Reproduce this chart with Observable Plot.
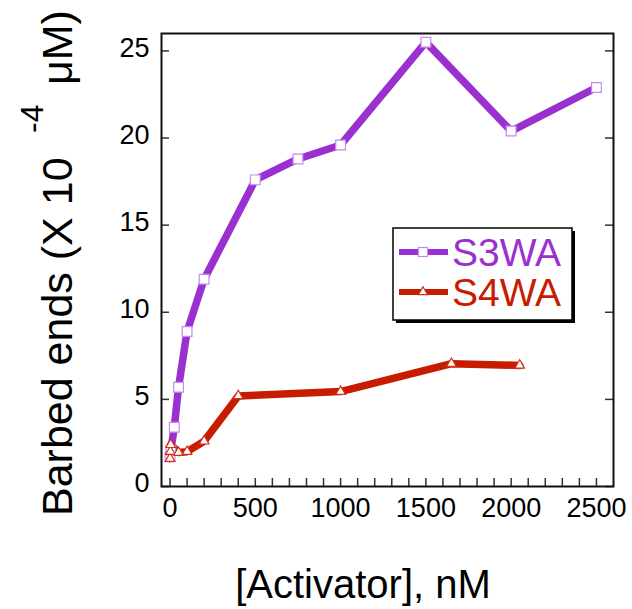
<!DOCTYPE html>
<html><head><meta charset="utf-8">
<script src="https://cdn.jsdelivr.net/npm/d3@7"></script>
<script src="https://cdn.jsdelivr.net/npm/@observablehq/plot@0.6"></script>
<style>body{margin:0;background:#fff}</style>
</head><body><div id="chart"></div>
<script>
// ---- data ----
const seriesNames = ["S3WA", "S4WA"];
const s3waX = [0, 5, 25, 50, 100, 200, 500, 750, 1000, 1500, 2000, 2500];
const s3waY = [1.7, 2.1, 3.4, 5.7, 8.9, 11.9, 17.6, 18.8, 19.6, 25.5, 20.4, 22.9];
const s4waX = [0, 2, 4, 50, 100, 200, 400, 1000, 1650, 2050];
const s4waY = [1.6, 2.0, 2.4, 1.95, 2.0, 2.6, 5.2, 5.45, 7.05, 6.95];
const xTicks = [0, 500, 1000, 1500, 2000, 2500];
const xMinorTicks = d3.range(0, 2600, 100);
const yTicks = [0, 5, 10, 15, 20, 25];
const xDomain = [-50, 2600];
const yDomain = [0, 26];
const xLabel = "[Activator], nM";
const yLabelMain = "Barbed ends (X 10";
const yLabelSup = "-4";
const yLabelUnit = "μM)";

const colors = ["#9a30d0", "#c81c00"];
const markerStroke = ["#c58af0", "#d0301c"];
const FONT = "'Liberation Sans', Arial, Helvetica, sans-serif";

const data3 = s3waX.map((x, i) => ({x, y: s3waY[i]}));
const data4 = s4waX.map((x, i) => ({x, y: s4waY[i]}));

const W = 632, H = 609, mL = 161, mR = 19, mT = 33, mB = 123;
const fw = W - mL - mR, fh = H - mT - mB;

const chart = Plot.plot({
  width: W, height: H,
  marginLeft: mL, marginRight: mR, marginTop: mT, marginBottom: mB,
  style: {fontFamily: FONT, fontSize: "27px", color: "#000", background: "#fff", overflow: "visible"},
  x: {domain: xDomain},
  y: {domain: yDomain},
  marks: [
    Plot.tickX(xMinorTicks, {x: d => d, insetTop: fh - 8, stroke: "#333", strokeWidth: 1.5}),
    Plot.tickY(yTicks, {y: d => d, insetRight: fw - 8, stroke: "#333", strokeWidth: 1.5}),
    Plot.tickY(yTicks, {y: d => d, insetLeft: fw - 8, stroke: "#333", strokeWidth: 1.5}),
    Plot.axisX({ticks: xTicks, tickSize: 0, tickPadding: 11, fontSize: 27, tickFormat: d => String(d), label: null}),
    Plot.axisY({ticks: yTicks, tickSize: 0, tickPadding: 12, fontSize: 27, dy: -3, tickFormat: d => String(d), label: null}),
    Plot.line(data3, {x: "x", y: "y", stroke: colors[0], strokeWidth: 7.5}),
    Plot.line(data4, {x: "x", y: "y", stroke: colors[1], strokeWidth: 7.5}),
    Plot.dot(data3, {x: "x", y: "y", symbol: "square", r: 5.5, fill: "#fff", stroke: markerStroke[0], strokeWidth: 1.2}),
    Plot.dot(data4, {x: "x", y: "y", symbol: "triangle", r: 3.6, fill: "#fff", stroke: markerStroke[1], strokeWidth: 1.2}),
    Plot.frame({stroke: "#111", strokeWidth: 2})
  ]
});

const svg = d3.select(chart);
const addText = (sel, attrs, txt) => {
  const t = sel.append("text").attr("font-family", FONT).attr("fill", "#000").attr("text-anchor", "start");
  for (const k in attrs) t.attr(k, attrs[k]);
  t.style("font-size", attrs["font-size"] + "px");
  return t.text(txt);
};
// axis titles
addText(svg, {x: 363, y: 598, "text-anchor": "middle", "font-size": 40}, xLabel);
addText(svg, {transform: "translate(72,516) rotate(-90)", "font-size": 43}, yLabelMain);
addText(svg, {transform: "translate(43,133) rotate(-90)", "font-size": 32}, yLabelSup);
addText(svg, {transform: "translate(72,85) rotate(-90)", "font-size": 43}, yLabelUnit);

// legend
const lg = svg.append("g");
lg.append("rect").attr("x", 396).attr("y", 231).attr("width", 179).attr("height", 92).attr("fill", "#000");
lg.append("rect").attr("x", 393).attr("y", 228).attr("width", 179).attr("height", 92)
  .attr("fill", "#fff").attr("stroke", "#000").attr("stroke-width", 1.5);
const rowsY = [252, 292];
seriesNames.forEach((name, i) => {
  const yy = rowsY[i];
  lg.append("line").attr("x1", 399).attr("x2", 448).attr("y1", yy).attr("y2", yy)
    .attr("stroke", colors[i]).attr("stroke-width", 6);
  if (i === 0) {
    lg.append("rect").attr("x", 418.5).attr("y", yy - 4.5).attr("width", 9).attr("height", 9)
      .attr("fill", "#fff").attr("stroke", markerStroke[0]).attr("stroke-width", 1.2);
  } else {
    lg.append("path").attr("d", d3.symbol(d3.symbolTriangle, Math.PI * 3.4 * 3.4)())
      .attr("transform", `translate(423,${yy})`)
      .attr("fill", "#fff").attr("stroke", markerStroke[1]).attr("stroke-width", 1.2);
  }
  addText(lg, {x: 452, y: yy + 13.5, "font-size": 39, fill: colors[i]}, name);
});

document.getElementById("chart").appendChild(chart);
</script>
</body></html>
